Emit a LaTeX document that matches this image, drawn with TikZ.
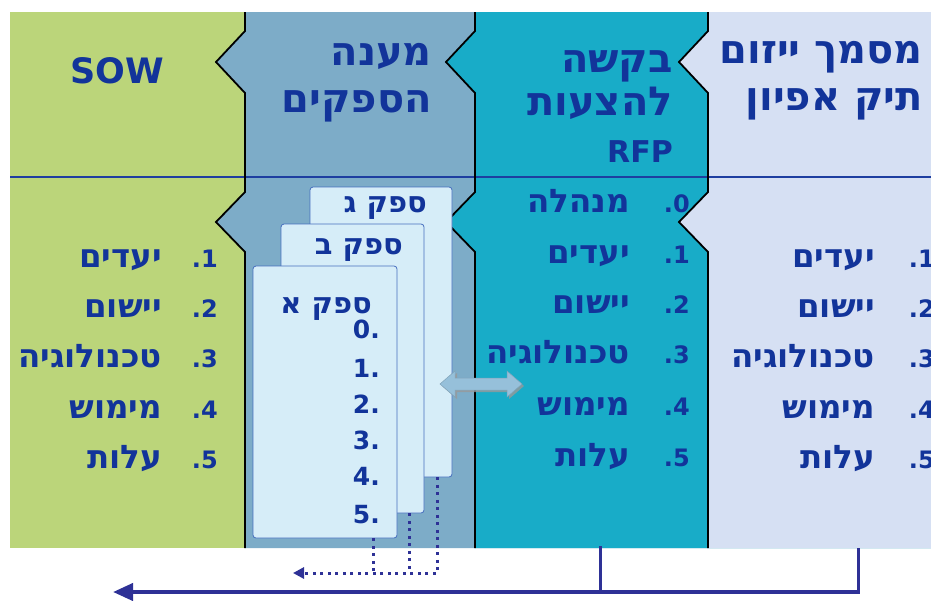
\documentclass[tikz,border=0pt]{standalone}
\usepackage{fontspec}
\setmainfont{Liberation Sans}
\newfontfamily\heb[Script=Hebrew]{DejaVu Sans}
\newfontfamily\dvs{DejaVu Sans}
\TeXXeTstate=1
\usetikzlibrary{arrows.meta,shadows}
\definecolor{tblue}{RGB}{18,52,154}
\definecolor{cgreen}{RGB}{187,213,122}
\definecolor{cgrey}{RGB}{125,172,200}
\definecolor{ccyan}{RGB}{24,172,200}
\definecolor{clav}{RGB}{214,224,243}
\definecolor{cardfill}{RGB}{214,237,248}
\definecolor{cardline}{RGB}{70,110,190}
\definecolor{hline}{RGB}{30,62,160}
\definecolor{flowc}{RGB}{46,49,150}
\definecolor{arrfill}{RGB}{150,192,218}
\tikzset{
  txt/.style={text=tblue, inner sep=0pt},
  hebT/.style={txt, anchor=base east, font=\heb\bfseries\fontsize{40}{42}\selectfont},
  hebL/.style={txt, anchor=base east, font=\heb\bfseries\fontsize{32.5}{34}\selectfont},
  hebC/.style={txt, anchor=base east, font=\heb\bfseries\fontsize{29}{31}\selectfont},
  latT/.style={txt, anchor=base east, font=\dvs\bfseries\fontsize{30}{32}\selectfont},
  numL/.style={txt, anchor=base east, font=\dvs\bfseries\fontsize{24}{26}\selectfont},
  numC/.style={txt, anchor=base east, font=\dvs\bfseries\fontsize{25}{27}\selectfont},
  card/.style={draw=cardline, line width=0.8pt, fill=cardfill, rounded corners=3pt, inner sep=0pt},
  edge/.style={black, line width=1.8pt},
  dotline/.style={flowc, line width=3pt, dash pattern=on 3pt off 4.5pt},
  flowline/.style={flowc, line width=4pt},
}
\begin{document}
\begin{tikzpicture}[x=1pt,y=-1pt]
\useasboundingbox (0,0) rectangle (931,600);
\fill[white] (0,0) rectangle (931,600);
% panels
\fill[cgreen] (10,12) rectangle (931,548);
\foreach \bx/\col in {245/cgrey,475/ccyan,708/clav}{
  \fill[\col] (\bx,12) -- (\bx,31) -- (\bx-29,62) -- (\bx,93) -- (\bx,192) -- (\bx-29,222) -- (\bx,252) -- (\bx,548) -- (931,548) -- (931,12) -- cycle;
}
\draw[hline, line width=1.5pt] (10,177) -- (931,177);
\foreach \bx in {245,475,708}{
  \draw[edge] (\bx,12) -- (\bx,31) -- (\bx-29,62) -- (\bx,93) -- (\bx,192) -- (\bx-29,222) -- (\bx,252) -- (\bx,548);
}
% titles
\node[latT, font=\dvs\bfseries\fontsize{35}{37}\selectfont, anchor=base] (sow) at (117,83) {SOW};
\node[hebT] (t2a) at (432,65) {\heb\beginR מענה\endR};
\node[hebT] (t2b) at (432,112) {\heb\beginR הספקים\endR};
\node[hebT] (t3a) at (673,72) {\heb\beginR בקשה\endR};
\node[hebT] (t3b) at (673,115) {\heb\beginR להצעות\endR};
\node[latT] (t3c) at (673,162) {RFP};
\node[hebT] (t4a) at (923,63) {\heb\beginR מסמך ייזום\endR};
\node[hebT] (t4b) at (923,110) {\heb\beginR תיק אפיון\endR};
% lists
\foreach \i/\w/\y in {1/יעדים/267,2/יישום/317,3/טכנולוגיה/367,4/מימוש/418,5/עלות/468}{
  \node[numL] (gn\i) at (218,\y) {.\i};
  \node[hebL] (gw\i) at (162,\y) {\heb\beginR \w\endR};
  \node[numL] (ln\i) at (935,\y) {.\i};
  \node[hebL] (lw\i) at (875,\y) {\heb\beginR \w\endR};
}
\foreach \i/\w/\y in {0/מנהלה/212,1/יעדים/263,2/יישום/313,3/טכנולוגיה/363,4/מימוש/415,5/עלות/466}{
  \node[numL] (cn\i) at (690,\y) {.\i};
  \node[hebL] (cw\i) at (630,\y) {\heb\beginR \w\endR};
}
% supplier cards
\node[card, minimum width=142pt, minimum height=290pt] (cg) at (381,332) {};
\node[hebC] (cgl) at (427,212) {\heb\beginR ספק ג\endR};
\node[card, minimum width=143pt, minimum height=289pt] (cb) at (352.5,368.5) {};
\node[hebC] (cbl) at (403,254) {\heb\beginR ספק ב\endR};
\node[card, minimum width=144pt, minimum height=272pt] (ca) at (325,402) {};
\node[hebC] (cal) at (372,313) {\heb\beginR ספק א\endR};
\foreach \i/\y in {0/338,1/377,2/413,3/449,4/485,5/523}{
  \node[numC] (an\i) at (380,\y) {\i.};
}
% double arrow
\path[fill=arrfill, draw=arrfill!85!black, line width=0.5pt,
      drop shadow={shadow xshift=2pt, shadow yshift=-2pt, fill=gray!80, opacity=0.8}]
  (440,384) -- (455,371) -- (455,378) -- (507,378) -- (507,371) -- (522,384)
  -- (507,397) -- (507,390) -- (455,390) -- (455,397) -- cycle;
% dotted flow
\coordinate (dend) at (293,573);
\draw[dotline, -{Triangle[length=11pt,width=11pt]}] ([xshift=-15pt]cg.south east) |- (dend);
\draw[dotline] ([xshift=-15pt]cb.south east) -- ([xshift=-15pt]cb.south east |- dend);
\draw[dotline] ([xshift=-24pt]ca.south east) -- ([xshift=-24pt]ca.south east |- dend);
% solid flow
\coordinate (rfpB) at (600,546);
\coordinate (docB) at (858,548);
\coordinate (bend) at (113,592);
\draw[flowc, line width=3pt] (rfpB) -- (rfpB |- bend);
\draw[flowc, line width=3pt] (docB) -- (docB |- bend);
\draw[flowline, -{Triangle[length=20pt,width=17pt]}] ([xshift=1.5pt]docB |- bend) -- (bend);
\end{tikzpicture}
\end{document}
